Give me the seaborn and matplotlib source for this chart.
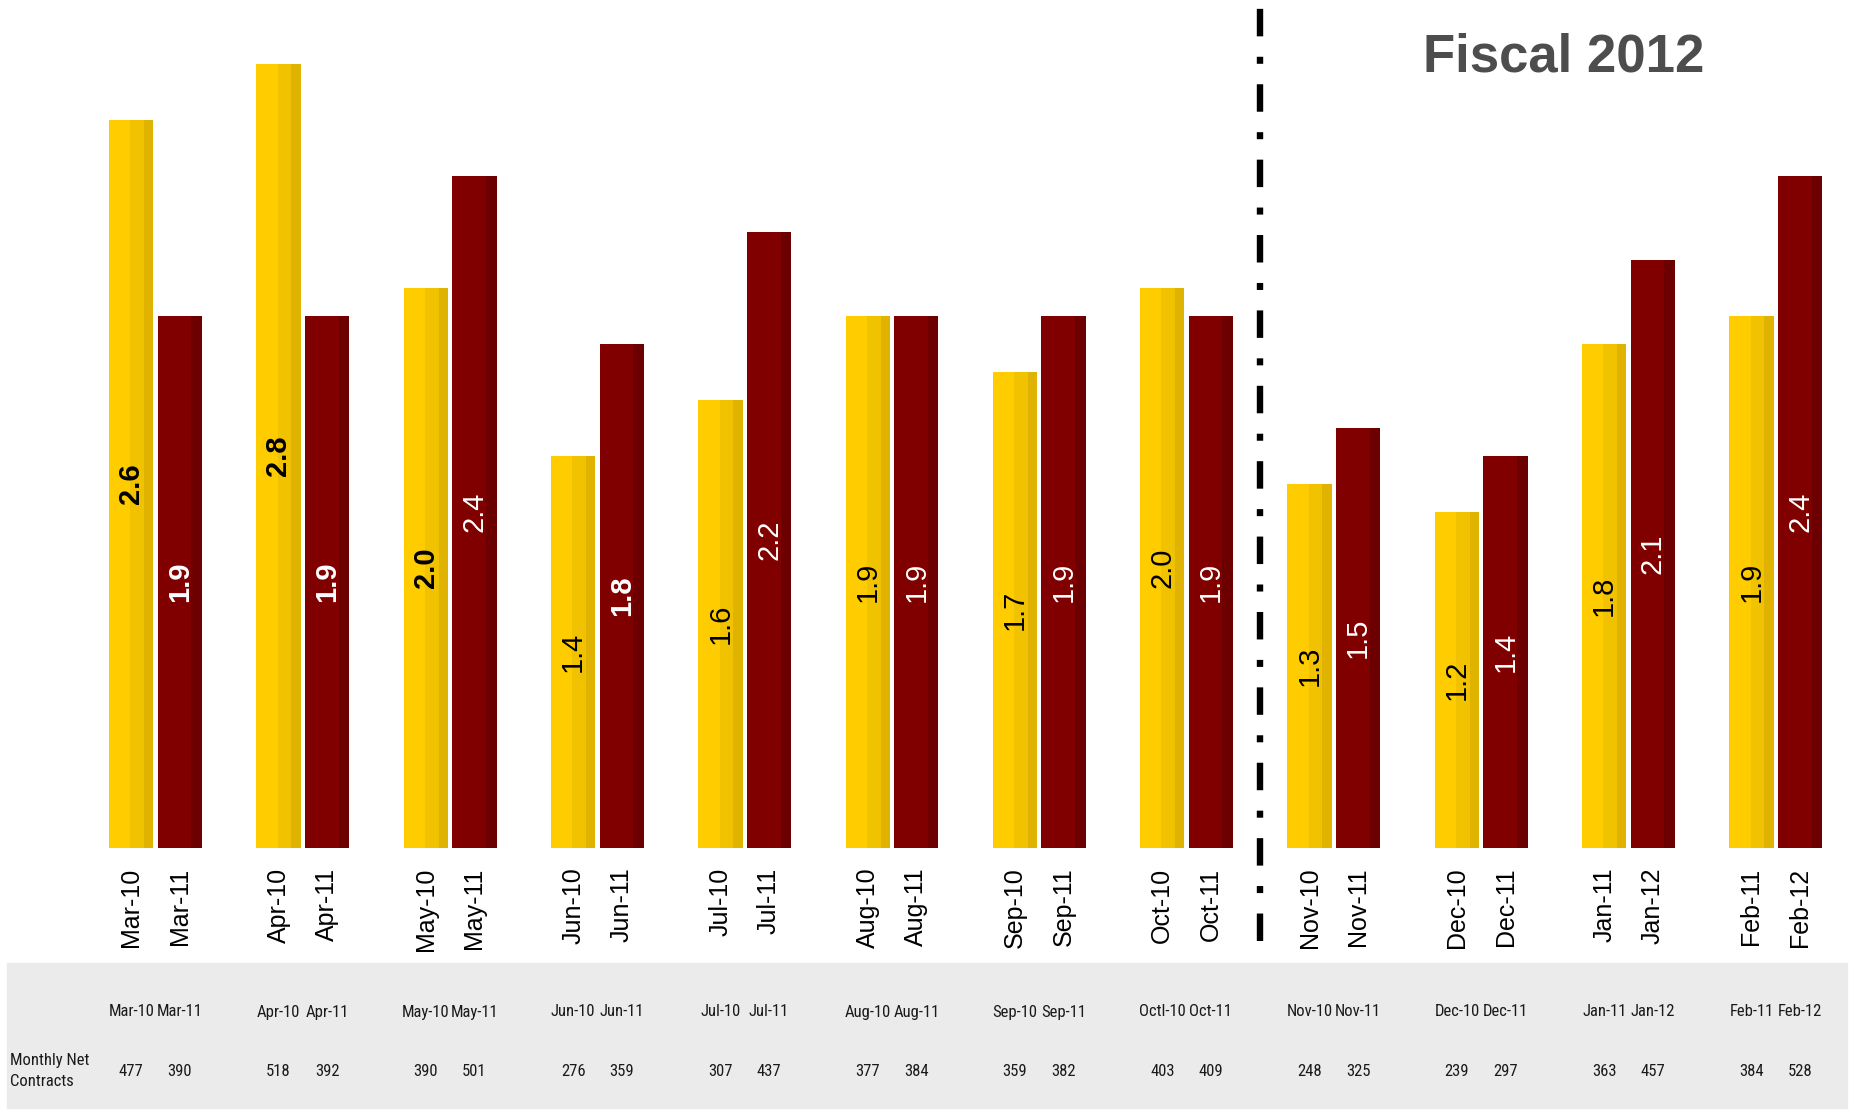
import matplotlib
matplotlib.use("Agg")
import matplotlib.pyplot as plt
import matplotlib.transforms as mtrans
from matplotlib import font_manager as fm
from matplotlib.patches import Rectangle
import seaborn as sns
import pandas as pd

# ---------------- data ----------------
prev_labels = ["Mar-10", "Apr-10", "May-10", "Jun-10", "Jul-10", "Aug-10",
               "Sep-10", "Oct-10", "Nov-10", "Dec-10", "Jan-11", "Feb-11"]
curr_labels = ["Mar-11", "Apr-11", "May-11", "Jun-11", "Jul-11", "Aug-11",
               "Sep-11", "Oct-11", "Nov-11", "Dec-11", "Jan-12", "Feb-12"]
table_prev_labels = ["Mar-10", "Apr-10", "May-10", "Jun-10", "Jul-10", "Aug-10",
                     "Sep-10", "Octl-10", "Nov-10", "Dec-10", "Jan-11", "Feb-11"]
prev_values = [2.6, 2.8, 2.0, 1.4, 1.6, 1.9, 1.7, 2.0, 1.3, 1.2, 1.8, 1.9]
curr_values = [1.9, 1.9, 2.4, 1.8, 2.2, 1.9, 1.9, 1.9, 1.5, 1.4, 2.1, 2.4]
prev_contracts = [477, 518, 390, 276, 307, 377, 359, 403, 248, 239, 363, 384]
curr_contracts = [390, 392, 501, 359, 437, 384, 382, 409, 325, 297, 457, 528]
prev_bold = [True, True, True, False, False, False, False, False, False, False, False, False]
curr_bold = [True, True, False, True, False, False, False, False, False, False, False, False]
row_title = "Monthly Net\nContracts"
title_text = "Fiscal 2012"

groups = [f"g{i}" for i in range(len(prev_values))]
df = pd.DataFrame({
    "group": groups + groups,
    "series": ["prev"] * len(groups) + ["curr"] * len(groups),
    "value": prev_values + curr_values,
})

GOLD = "#FFCC00"
GOLD_MID = "#F1C200"
GOLD_DARK = "#E0B300"
RED = "#800000"
RED_DARK = "#6C0000"

sns.set_theme(style="white")
plt.rcParams["font.family"] = ["Liberation Sans", "DejaVu Sans"]

# pick a condensed face for the table if one is installed
installed = {f.name for f in fm.fontManager.ttflist}
table_font = None
table_size = 9.5
table_stretch = "normal"
for cand in ["Liberation Sans Narrow", "Roboto Condensed", "DejaVu Sans Condensed",
             "Open Sans Condensed", "Noto Sans Condensed"]:
    if cand in installed:
        table_font = [cand, "Liberation Sans", "DejaVu Sans"]
        table_size = 12
        break
if table_font is None:
    cond = [f for f in fm.fontManager.ttflist
            if f.name in ("DejaVu Sans", "Noto Sans", "Open Sans", "Roboto")
            and str(f.stretch) in ("condensed", "semi-condensed", "extra-condensed", "75", "87.5", "62.5")
            and str(f.weight) in ("400", "normal", "regular", "book")]
    if cond:
        table_font = [cond[0].name]
        table_stretch = cond[0].stretch
        table_size = 11
    else:
        table_font = ["Liberation Sans", "DejaVu Sans"]

W, H = 1855, 1112
fig = plt.figure(figsize=(W / 100, H / 100), dpi=100)
base_px = 848.0
px_per_unit = 280.0
ax = fig.add_axes([0, (H - base_px) / H, 1, base_px / H])
ax.patch.set_alpha(0)

sns.barplot(data=df, x="group", y="value", hue="series", order=groups,
            hue_order=["prev", "curr"], palette={"prev": GOLD, "curr": RED},
            width=0.66, gap=0.09, dodge=True, legend=False, ax=ax,
            saturation=1, linewidth=0)

spacing = 147.3
c0 = 155.5
ax.set_xlim(-c0 / spacing, (W - c0) / spacing)
ax.set_ylim(0, base_px / px_per_unit)
for s in ax.spines.values():
    s.set_visible(False)
ax.set_yticks([])
ax.set_ylabel("")
ax.set_xlabel("")

prev_bars = list(ax.containers[0])
curr_bars = list(ax.containers[1])

# cylinder-like shading strips derived from bar geometry
for p in prev_bars:
    x, w, h = p.get_x(), p.get_width(), p.get_height()
    ax.add_patch(Rectangle((x + 0.48 * w, 0), 0.31 * w, h, color=GOLD_MID, lw=0, zorder=p.get_zorder() + 0.1))
    ax.add_patch(Rectangle((x + 0.79 * w, 0), 0.21 * w, h, color=GOLD_DARK, lw=0, zorder=p.get_zorder() + 0.1))
for p in curr_bars:
    x, w, h = p.get_x(), p.get_width(), p.get_height()
    ax.add_patch(Rectangle((x + 0.76 * w, 0), 0.24 * w, h, color=RED_DARK, lw=0, zorder=p.get_zorder() + 0.1))

# value labels
for bars, vals, bolds, col in [(prev_bars, prev_values, prev_bold, "black"),
                               (curr_bars, curr_values, curr_bold, "white")]:
    for p, v, b in zip(bars, vals, bolds):
        ax.text(p.get_x() + p.get_width() / 2, v / 2, f"{v:.1f}", rotation=90,
                ha="center", va="center", color=col, fontsize=21,
                fontweight="bold" if b else "normal", zorder=5)

# x tick labels, one per bar
centers = []
names = []
for pb, cb, pl, cl in zip(prev_bars, curr_bars, prev_labels, curr_labels):
    centers += [pb.get_x() + pb.get_width() / 2, cb.get_x() + cb.get_width() / 2]
    names += [pl, cl]
ax.set_xticks(centers)
ax.set_xticklabels(names, rotation=90, fontsize=18, color="black")
ax.tick_params(axis="x", length=0, pad=14)

# dash-dot separator between Oct and Nov
ax.axvline(7.5, ymin=-0.11, ymax=1.0, color="black", lw=4.6,
           linestyle=(0, (4.3, 3.2, 1.1, 3.2)), clip_on=False, zorder=6)

# Title
fig.text(1564 / W, 1 - 57 / H, title_text, ha="center", va="center",
         fontsize=38, fontweight="bold", color="#4D4D4D")

# bottom table
fig.patches.append(Rectangle((7 / W, 4 / H), (1847 - 7) / W, (1108 - 963) / H,
                             transform=fig.transFigure, color="#EBEBEB", zorder=-1))
tr = mtrans.blended_transform_factory(ax.transData, fig.transFigure)
tkw = dict(fontsize=table_size, family=table_font, stretch=table_stretch, color="#1A1A1A")
for pb, cb, pl, cl, pv, cv in zip(prev_bars, curr_bars, table_prev_labels, curr_labels,
                                  prev_contracts, curr_contracts):
    for p, lab, num in [(pb, pl, pv), (cb, cl, cv)]:
        xc = p.get_x() + p.get_width() / 2
        ax.text(xc, 1 - 1012 / H, lab, transform=tr, ha="center", va="center",
                clip_on=False, **tkw)
        ax.text(xc, 1 - 1071 / H, str(num), transform=tr, ha="center", va="center",
                clip_on=False, **tkw)
fig.text(10 / W, 1 - 1071 / H, row_title, ha="left", va="center",
         linespacing=1.5, **tkw)

fig.savefig("out.png", dpi=100)
